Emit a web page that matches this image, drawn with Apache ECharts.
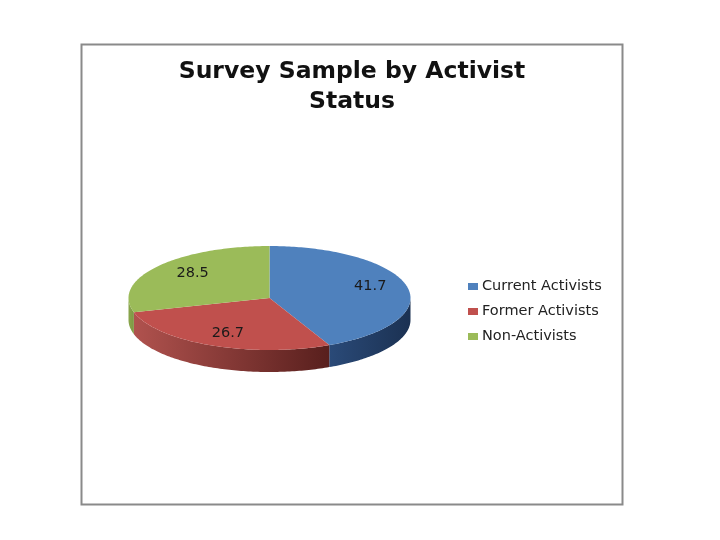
<!DOCTYPE html>
<html><head><meta charset="utf-8">
<style>html,body{margin:0;padding:0;background:#fff}#c{width:720px;height:540px}</style>
<script src="https://cdn.jsdelivr.net/npm/echarts@6/dist/echarts.min.js"></script>
</head><body><div id="c"></div>
<script>
const categories = ['Current Activists', 'Former Activists', 'Non-Activists'];
const values = [41.7, 26.7, 28.5];
const titleLines = 'Survey Sample by Activist\nStatus';
const colors = ['#4f81bd', '#c0504d', '#9bbb59'];
const wallStops = [['#2a4a78', '#1b3152'], ['#b0524e', '#581f1d'], ['#8aa64c', '#7d9744']];
const labelNudge = [[3, -2], [0, 4], [3, -1]];

const cx = 269.5, cy = 298, rx = 141, ry = 52, depth = 22;
const total = values.reduce((a, b) => a + b, 0);
const pt = (deg, dy) => {
  const t = deg * Math.PI / 180;
  return [cx + rx * Math.sin(t), cy - ry * Math.cos(t) + (dy || 0)];
};
const arc = (a, b, dy) => {
  const out = [], n = Math.max(2, Math.ceil(Math.abs(b - a)));
  for (let i = 0; i <= n; i++) out.push(pt(a + (b - a) * i / n, dy));
  return out;
};

function renderSlice(idx) {
  return function (params, api) {
    const v = api.value(0);
    let before = 0;
    for (let i = 0; i < idx; i++) before += values[i];
    const a = before / total * 360, b = (before + v) / total * 360;
    const children = [];
    const wa = Math.max(a, 90), wb = Math.min(b, 270);
    if (wb > wa) {
      const top = arc(wa, wb, 0), bottom = arc(wa, wb, depth).reverse();
      const xs = top.map(p => p[0]);
      const x0 = Math.min(...xs), x1 = Math.max(...xs);
      // left side of the wall is the lighter end for every slice
      children.push({
        type: 'polygon',
        shape: { points: top.concat(bottom) },
        style: {
          fill: new echarts.graphic.LinearGradient(x0, 0, x1, 0, [
            { offset: 0, color: wallStops[idx][0] },
            { offset: 1, color: wallStops[idx][1] }
          ], true)
        }
      });
    }
    children.push({
      type: 'polygon',
      shape: { points: [[cx, cy]].concat(arc(a, b, 0)) },
      style: { fill: colors[idx] }
    });
    const mid = (a + b) / 2 * Math.PI / 180;
    children.push({
      type: 'text',
      style: {
        x: cx + rx * 0.71 * Math.sin(mid) + labelNudge[idx][0],
        y: cy - ry * 0.71 * Math.cos(mid) - 2 + labelNudge[idx][1],
        text: String(v),
        fill: '#1a1a1a',
        font: '14.5px "DejaVu Sans"',
        align: 'center',
        verticalAlign: 'middle'
      }
    });
    return { type: 'group', children };
  };
}

const chart = echarts.init(document.getElementById('c'), null, { renderer: 'canvas' });
chart.setOption({
  animation: false,
  backgroundColor: '#fff',
  title: {
    text: titleLines,
    left: 347, top: 52,
    textAlign: 'center',
    textStyle: { fontFamily: 'DejaVu Sans', fontWeight: 'bold', fontSize: 23.5, lineHeight: 30, color: '#111' }
  },
  legend: {
    orient: 'vertical',
    left: 463, top: 274,
    icon: 'rect',
    itemWidth: 10, itemHeight: 7,
    itemGap: 10,
    data: categories,
    textStyle: { fontFamily: 'DejaVu Sans', fontSize: 14.5, color: '#222', padding: [0, 0, 0, -1] }
  },
  graphic: [{
    type: 'rect', z: -1,
    shape: { x: 81.5, y: 44.5, width: 541, height: 460 },
    style: { fill: '#fff', stroke: '#8a8a8a', lineWidth: 2 }
  }],
  series: categories.map((name, i) => ({
    type: 'custom',
    name,
    coordinateSystem: 'none',
    itemStyle: { color: colors[i] },
    renderItem: renderSlice(i),
    data: [[values[i]]]
  }))
});
</script></body></html>
